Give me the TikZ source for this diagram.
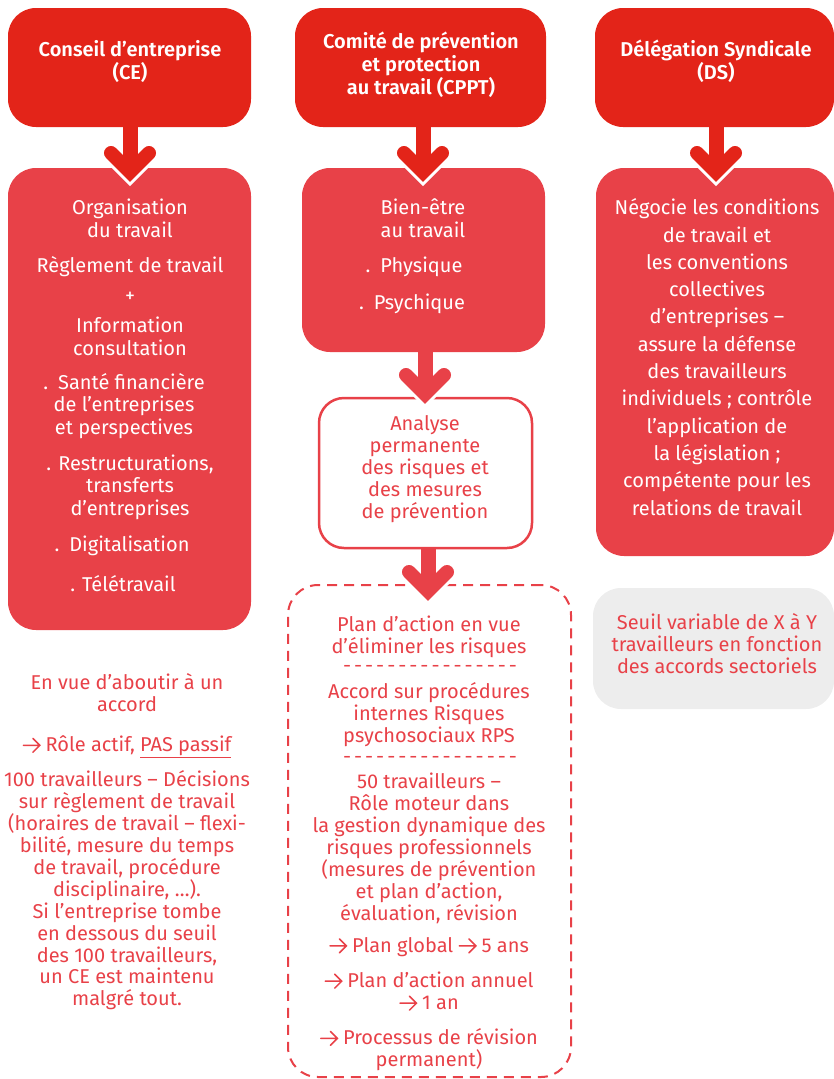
\documentclass[tikz,border=0pt]{standalone}
\usepackage{fontspec}
\setmainfont{Fira Sans}
\newfontfamily\hdrfont{Fira Sans SemiBold}
\usetikzlibrary{calc}
\definecolor{hdrred}{HTML}{E32419}
\definecolor{bodyred}{HTML}{E84148}
\definecolor{greybox}{HTML}{EDEDED}
\newcommand\chevarrow[3]{%
  \draw[line width=20pt, white, line cap=round, line join=miter] ($(#2)+(-19,-19)$) -- (#2) -- ($(#2)+(19,-19)$);
  \draw[line width=15pt, #3] (#1 -| #2) -- (#2);
  \draw[line width=14pt, #3, line cap=round, line join=miter] ($(#2)+(-19,-19)$) -- (#2) -- ($(#2)+(19,-19)$);}
\newcommand\arr{\tikz[baseline=0pt]\draw[draw=bodyred, line width=1.5pt, line cap=round, line join=miter] (0pt,6.5pt)--(16.5pt,6.5pt) (9.5pt,-0.5pt)--(16.5pt,6.5pt)--(9.5pt,13.5pt);\kern5pt}
\newcommand\dashrow{-\kern3pt-\kern3pt-\kern3pt-\kern3pt-\kern3pt-\kern3pt-\kern3pt-\kern3pt-\kern3pt-\kern3pt-\kern3pt-\kern3pt-\kern3pt-\kern3pt-\kern3pt-}
\begin{document}
\begin{tikzpicture}[x=1pt, y=-1pt,
  box/.style={inner sep=0pt, outer sep=0pt, rounded corners=28pt},
  hdr/.style={box, fill=hdrred},
  bodybox/.style={box, fill=bodyred},
  hdrtxt/.style={text=white, align=center, font=\fontsize{20}{23}\selectfont\hdrfont},
  wtxt/.style={text=white, align=center, font=\fontsize{20}{22.5}\selectfont},
  rtxt/.style={text=bodyred, align=center, font=\fontsize{20}{22}\selectfont}]
\useasboundingbox (0,0) rectangle (834,1079);
% headers
\node[hdr, minimum width=243pt, minimum height=119pt] (ceh) at (129.5,67.5) {};
\node[hdr, minimum width=251pt, minimum height=119pt] (cpph) at (420.5,67.5) {};
\node[hdr, minimum width=239pt, minimum height=119pt] (dsh) at (714.5,67.5) {};
\node[hdrtxt] (cehT) at (130,61.5) {Conseil d’entreprise\\(CE)};
\node[hdrtxt] (cpphT) at (421,64.5) {Comité de prévention\\et protection\\au travail (CPPT)};
\node[hdrtxt] (dshT) at (716,61.5) {Délégation Syndicale\\(DS)};
% bodies
\node[bodybox, minimum width=243pt, minimum height=462pt] (ceb) at (129.5,399) {};
\node[bodybox, minimum width=243pt, minimum height=184pt] (cppb) at (423.5,260) {};
\node[bodybox, minimum width=238pt, minimum height=388pt] (dsb) at (715,362) {};
\node[box, draw=bodyred, line width=2.5pt, fill=white, rounded corners=25pt, minimum width=213pt, minimum height=150pt] (ana) at (425.5,473) {};
\node[box, draw=bodyred, line width=2pt, dash pattern=on 10pt off 7pt, rounded corners=30pt, minimum width=283pt, minimum height=492pt] (dbox) at (429.5,831) {};
\node[box, fill=greybox, minimum width=241pt, minimum height=121pt] (grey) at (713.5,648.5) {};
% arrows
\coordinate (a1v) at (130,172);
\coordinate (a2v) at (423,172);
\coordinate (a3v) at (716,172);
\coordinate (a4v) at (425,394);
\coordinate (a5v) at (428,591);
\chevarrow{ceh.south}{a1v}{hdrred}
\chevarrow{cpph.south}{a2v}{hdrred}
\chevarrow{dsh.south}{a3v}{hdrred}
\chevarrow{cppb.south}{a4v}{bodyred}
\chevarrow{ana.south}{a5v}{bodyred}
% CE body text
\node[wtxt] (ce1) at (130,218.5) {Organisation\\du travail};
\node[wtxt] (ce2) at (130,267) {Règlement de travail};
\node[wtxt] (ce3) at (130,297) {+};
\node[wtxt] (ce4) at (130,336.5) {Information\\consultation};
\node[wtxt] (ce5) at (124,406) {.\enspace Santé financière\\de l’entreprises\\et perspectives};
\node[wtxt] (ce6) at (130,487) {. Restructurations,\\transferts\\d’entreprises};
\node[wtxt] (ce7) at (122,546) {.\enspace Digitalisation};
\node[wtxt] (ce8) at (123,584) {. Télétravail};
% CPPT body text
\node[wtxt] (cp1) at (423,218) {Bien-être\\au travail};
\node[wtxt] (cp2) at (414,267) {.\enspace Physique};
\node[wtxt] (cp3) at (412,304) {.\enspace Psychique};
\node[rtxt] (an1) at (425,469) {Analyse\\permanente\\des risques et\\des mesures\\de prévention};
% DS body text
\node[wtxt, font=\fontsize{20}{27.3}\selectfont] (ds1) at (717,357) {Négocie les conditions\\de travail et\\les conventions\\collectives\\d’entreprises –\\assure la défense\\des travailleurs\\individuels ; contrôle\\l’application de\\la législation ;\\compétente pour les\\relations de travail};
% dashed box text
\node[rtxt] (d1) at (429,637) {Plan d’action en vue\\d’éliminer les risques};
\node[rtxt] (d2) at (430,669) {\dashrow};
\node[rtxt] (d3) at (429,714.5) {Accord sur procédures\\internes Risques\\psychosociaux RPS};
\node[rtxt] (d4) at (430,760) {\dashrow};
\node[rtxt] (d5) at (429,848) {50 travailleurs –\\Rôle moteur dans\\la gestion dynamique des\\risques professionnels\\(mesures de prévention\\et plan d’action,\\évaluation, révision};
\node[rtxt] (d6) at (429,947) {\arr Plan global \arr 5 ans};
\node[rtxt] (d7) at (429,991.5) {\arr Plan d’action annuel\\\arr 1 an};
\node[rtxt] (d8) at (429,1050) {\arr Processus de révision\\permanent)};
% CE bottom text
\node[rtxt] (cb1) at (127,693) {En vue d’aboutir à un\\accord};
\node[rtxt] (cb2) at (127,747) {\arr Rôle actif, \underline{PAS passif}};
\node[rtxt, font=\fontsize{20}{21.9}\selectfont] (cb3) at (127,890.5) {100 travailleurs – Décisions\\sur règlement de travail\\(horaires de travail – flexi-\\bilité, mesure du temps\\de travail, procédure\\disciplinaire, …).\\Si l’entreprise tombe\\en dessous du seuil\\des 100 travailleurs,\\un CE est maintenu\\malgré tout.};
% grey box text
\node[rtxt] (g1) at (717,644) {Seuil variable de X à Y\\travailleurs en fonction\\des accords sectoriels};
\end{tikzpicture}
\end{document}
